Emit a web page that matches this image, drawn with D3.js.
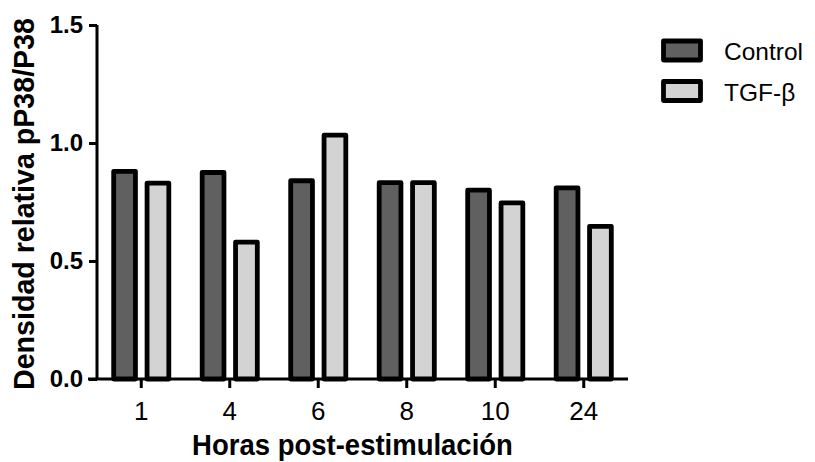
<!DOCTYPE html>
<html><head><meta charset="utf-8">
<script src="https://cdn.jsdelivr.net/npm/d3@7"></script>
<style>body{margin:0;background:#fff;} text{font-family:"Liberation Sans",Arial,sans-serif;}</style>
</head><body>
<svg id="c" width="815" height="462"></svg>
<script>
const categories = ["1","4","6","8","10","24"];
const seriesNames = ["Control","TGF-β"];
const controlValues = [0.88, 0.875, 0.84, 0.832, 0.80, 0.81];
const tgfValues = [0.83, 0.58, 1.033, 0.832, 0.746, 0.647];
const yTicks = [0.0, 0.5, 1.0, 1.5];
const colors = ["#606060", "#d3d3d3"];

const svg = d3.select("#c");
const x0 = 97, x1 = 628, yTop = 25, yBot = 379;
const x = d3.scaleBand().domain(categories).range([x0, x1]).paddingInner(0).paddingOuter(0);
const y = d3.scaleLinear().domain([0, 1.5]).range([yBot, yTop]);
const xs = d3.scaleBand().domain(seriesNames).range([0, x.bandwidth()]).paddingInner(0.348).paddingOuter(0.5);

const data = categories.map((c, i) => ({c, vals: [controlValues[i], tgfValues[i]]}));
const g = svg.append("g");
g.selectAll("g.grp").data(data).join("g").attr("class","grp")
  .attr("transform", d => `translate(${x(d.c)},0)`)
  .selectAll("rect").data(d => d.vals.map((v, j) => ({v, s: seriesNames[j], j})))
  .join("rect")
  .attr("x", d => xs(d.s)).attr("width", xs.bandwidth())
  .attr("y", d => y(d.v)).attr("height", d => yBot - y(d.v))
  .attr("fill", d => colors[d.j]).attr("stroke", "#000").attr("stroke-width", 4.8)
  .attr("stroke-linejoin", "round");

// Y axis
const ya = svg.append("g").attr("transform", `translate(${x0},0)`)
  .call(d3.axisLeft(y).tickValues(yTicks).tickFormat(d3.format(".1f")).tickSize(8).tickPadding(6));
ya.select(".domain").attr("stroke-width", 3).attr("d", `M0,${yTop}V${yBot}`);
ya.selectAll(".tick line").attr("stroke-width", 3);
ya.selectAll(".tick text").attr("font-size", 24).attr("font-weight", "bold").attr("fill","#000");

// X axis
const xa = svg.append("g").attr("transform", `translate(0,${yBot})`)
  .call(d3.axisBottom(x).tickSize(9).tickPadding(14));
xa.select(".domain").attr("stroke-width", 3).attr("d", `M${x0 - 9},0H${x1}`);
xa.selectAll(".tick line").attr("stroke-width", 3);
xa.selectAll(".tick text").attr("font-size", 26).attr("fill","#000");

// Axis titles
svg.append("text").attr("transform", "translate(352.5,455) scale(1,1.08)").attr("text-anchor", "middle")
  .attr("font-size", 27.5).attr("font-weight", "bold").text("Horas post-estimulación");
svg.append("text").attr("transform", "translate(34,204) rotate(-90)").attr("text-anchor", "middle")
  .attr("font-size", 28.6).attr("font-weight", "bold").text("Densidad relativa pP38/P38");

// Legend
const lg = svg.append("g");
seriesNames.forEach((s, i) => {
  lg.append("rect").attr("x", 663.5).attr("y", 41 + i * 40.5).attr("width", 37).attr("height", 19)
    .attr("fill", colors[i]).attr("stroke", "#000").attr("stroke-width", 4.8).attr("stroke-linejoin","round");
  lg.append("text").attr("x", 724).attr("y", 60 + i * 40.5).attr("font-size", 24.5).text(s);
});
</script>
</body></html>
